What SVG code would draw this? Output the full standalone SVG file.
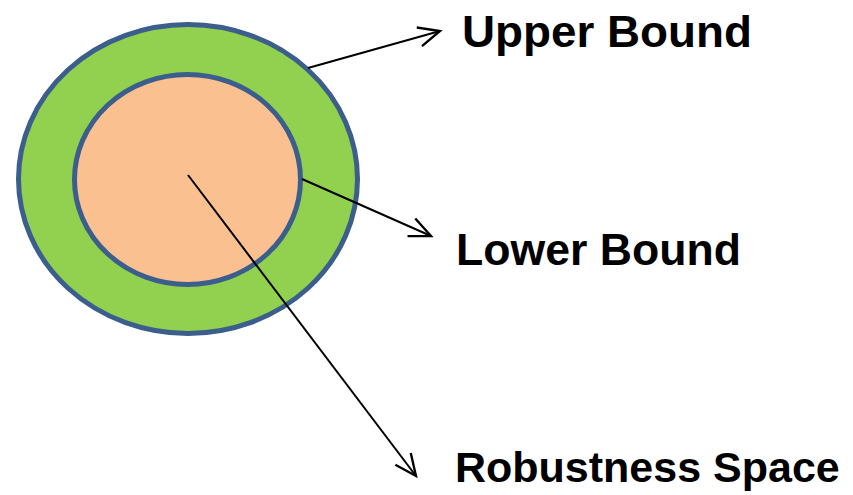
<svg xmlns="http://www.w3.org/2000/svg" width="853" height="495" viewBox="0 0 853 495">
<style>
.ring{stroke:#3B5E8C;stroke-width:5}
.lbl{font-family:"Liberation Sans",Arial,sans-serif;font-weight:bold;font-size:45px;fill:#000}
.conn{stroke:#000;stroke-width:2;fill:none;marker-end:url(#arr)}
</style>
<defs>
<marker id="arr" markerUnits="userSpaceOnUse" markerWidth="30" markerHeight="30" viewBox="-24 -12 28 24" refX="0" refY="0" orient="auto">
<path d="M-20,-9 L0,0 L-20,9" fill="none" stroke="#000" stroke-width="2.2"/>
</marker>
</defs>
<rect width="853" height="495" fill="#fff"/>
<g id="outer"><ellipse cx="188" cy="179" rx="169.5" ry="154.5" fill="#92D050" class="ring"/></g>
<g id="inner"><ellipse cx="187.5" cy="179.5" rx="113" ry="105" fill="#FAC090" class="ring"/></g>
<g id="connectors">
<line x1="308" y1="68" x2="440" y2="31" class="conn"/>
<line x1="302" y1="179" x2="431" y2="236" class="conn"/>
<line x1="188" y1="175" x2="416" y2="476" class="conn"/>
</g>
<g id="upper-label"><text x="462" y="47" class="lbl" textLength="290" lengthAdjust="spacingAndGlyphs">Upper Bound</text></g>
<g id="lower-label"><text x="456" y="265" class="lbl" textLength="285" lengthAdjust="spacingAndGlyphs">Lower Bound</text></g>
<g id="robust-label"><text x="455" y="482" class="lbl" style="font-size:43px">Robustness Space</text></g>
</svg>
